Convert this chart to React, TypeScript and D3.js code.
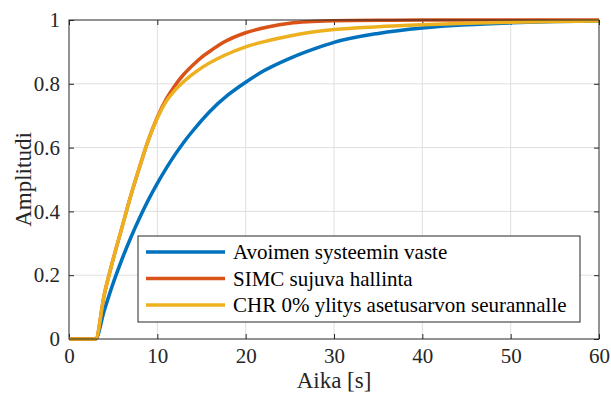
import React, { useEffect, useRef } from "react";
import * as d3 from "d3";

// step responses: [time s, amplitude]
const openLoop: [number, number][] = [
  [0, 0], [3, 0], [4, 0.09], [5, 0.175], [6, 0.25], [7, 0.318], [8, 0.38],
  [9, 0.437], [10, 0.488], [11, 0.535], [12, 0.578], [13, 0.617], [14, 0.652],
  [16, 0.715], [18, 0.765], [20, 0.805], [22, 0.84], [25, 0.88], [28, 0.912],
  [30, 0.93], [35, 0.958], [40, 0.975], [45, 0.985], [50, 0.991], [55, 0.995],
  [60, 0.997],
];

const simc: [number, number][] = [
  [0, 0], [3, 0], [4, 0.14], [5, 0.25], [6, 0.35], [7, 0.45], [8, 0.54],
  [9, 0.625], [10, 0.695], [11, 0.752], [12, 0.795], [13, 0.83], [14, 0.858],
  [15, 0.883], [16, 0.903], [17.5, 0.93], [20, 0.96], [22.5, 0.978],
  [25, 0.99], [27.5, 0.995], [30, 0.998], [35, 0.999], [40, 1], [60, 1],
];

const chr: [number, number][] = [
  [0, 0], [3, 0], [4, 0.14], [5, 0.25], [6, 0.35], [7, 0.45], [8, 0.54],
  [9, 0.625], [10, 0.693], [11, 0.745], [12, 0.78], [13, 0.807], [14, 0.83],
  [15, 0.85], [17.5, 0.888], [20, 0.916], [22.5, 0.935], [25, 0.95],
  [30, 0.97], [35, 0.979], [40, 0.985], [45, 0.99], [50, 0.993],
  [55, 0.995], [60, 0.997],
];

const seriesNames = [
  "Avoimen systeemin vaste",
  "SIMC sujuva hallinta",
  "CHR 0% ylitys asetusarvon seurannalle",
];
const seriesColors = ["#0072BD", "#D95319", "#EDB120"];
const xTicks = [0, 10, 20, 30, 40, 50, 60];
const yTicks = [0, 0.2, 0.4, 0.6, 0.8, 1];

const FONT = "'Liberation Serif', 'Times New Roman', serif";

const App = () => {
  const svgRef = useRef<SVGSVGElement>(null);

  useEffect(() => {
    const W = 611;
    const H = 397;
    const margin = { top: 20, right: 12, bottom: 58, left: 69 };
    const width = W - margin.left - margin.right;
    const height = H - margin.top - margin.bottom;

    const root = d3.select(svgRef.current).attr("width", W).attr("height", H);
    root.selectAll("*").remove();

    const svg = root
      .append("g")
      .attr("transform", `translate(${margin.left},${margin.top})`);

    const x = d3.scaleLinear().domain([0, 60]).range([0, width]);
    const y = d3.scaleLinear().domain([0, 1]).range([height, 0]);

    svg
      .append("rect")
      .attr("width", width)
      .attr("height", height)
      .attr("fill", "#fff");

    // grid
    svg
      .append("g")
      .selectAll("line")
      .data(xTicks.slice(1, -1))
      .enter()
      .append("line")
      .attr("x1", (d) => x(d))
      .attr("x2", (d) => x(d))
      .attr("y1", 0)
      .attr("y2", height)
      .attr("stroke", "#dfdfdf")
      .attr("stroke-width", 1);
    svg
      .append("g")
      .selectAll("line")
      .data(yTicks.slice(1, -1))
      .enter()
      .append("line")
      .attr("y1", (d) => y(d))
      .attr("y2", (d) => y(d))
      .attr("x1", 0)
      .attr("x2", width)
      .attr("stroke", "#dfdfdf")
      .attr("stroke-width", 1);

    // axes, ticks pointing inward on all four sides
    const axisColor = "#262626";
    const styleAxis = (g: any) => {
      g.select(".domain").remove();
      g.selectAll("line").attr("stroke", axisColor);
      g.selectAll("text")
        .attr("font-family", FONT)
        .attr("font-size", 21)
        .attr("fill", axisColor);
    };

    svg
      .append("g")
      .attr("transform", `translate(0,${height})`)
      .call(d3.axisBottom(x).tickValues(xTicks).tickSizeInner(-5).tickPadding(9))
      .call(styleAxis);
    svg
      .append("g")
      .call(d3.axisTop(x).tickValues(xTicks).tickSizeInner(-5).tickFormat(() => ""))
      .call(styleAxis);
    svg
      .append("g")
      .call(
        d3
          .axisLeft(y)
          .tickValues(yTicks)
          .tickSizeInner(-5)
          .tickPadding(9)
          .tickFormat((d) => d3.format("~g")(d as number))
      )
      .call(styleAxis);
    svg
      .append("g")
      .attr("transform", `translate(${width},0)`)
      .call(d3.axisRight(y).tickValues(yTicks).tickSizeInner(-5).tickFormat(() => ""))
      .call(styleAxis);

    // curves
    const line = d3
      .line<[number, number]>()
      .x((d) => x(d[0]))
      .y((d) => y(d[1]))
      .curve(d3.curveMonotoneX);

    [openLoop, simc, chr].forEach((data, i) => {
      svg
        .append("path")
        .datum(data)
        .attr("d", line)
        .attr("fill", "none")
        .attr("stroke", seriesColors[i])
        .attr("stroke-width", 3.5)
        .attr("stroke-linejoin", "round");
    });

    svg
      .append("rect")
      .attr("width", width)
      .attr("height", height)
      .attr("fill", "none")
      .attr("stroke", axisColor)
      .attr("stroke-width", 1);

    // axis labels
    svg
      .append("text")
      .attr("x", width / 2)
      .attr("y", height + 49)
      .attr("text-anchor", "middle")
      .attr("font-family", FONT)
      .attr("font-size", 23)
      .attr("fill", axisColor)
      .text("Aika [s]");
    svg
      .append("text")
      .attr("transform", `translate(${-38},${height / 2}) rotate(-90)`)
      .attr("text-anchor", "middle")
      .attr("font-family", FONT)
      .attr("font-size", 23)
      .attr("fill", axisColor)
      .text("Amplitudi");

    // legend
    const lg = svg
      .append("g")
      .attr("transform", `translate(${138 - margin.left},${236 - margin.top})`);
    lg.append("rect")
      .attr("width", 442)
      .attr("height", 86)
      .attr("fill", "#fff")
      .attr("stroke", axisColor)
      .attr("stroke-width", 1);
    seriesNames.forEach((name, i) => {
      const cy = 16 + i * 26.5;
      lg.append("line")
        .attr("x1", 8)
        .attr("x2", 87)
        .attr("y1", cy)
        .attr("y2", cy)
        .attr("stroke", seriesColors[i])
        .attr("stroke-width", 3.5);
      lg.append("text")
        .attr("x", 95)
        .attr("y", cy)
        .attr("dy", "0.35em")
        .attr("font-family", FONT)
        .attr("font-size", 21)
        .attr("fill", "#000")
        .text(name);
    });
  }, []);

  return (
    <svg
      ref={svgRef}
      style={{ position: "absolute", left: 0, top: 0, background: "#fff" }}
    ></svg>
  );
};

export default App;
